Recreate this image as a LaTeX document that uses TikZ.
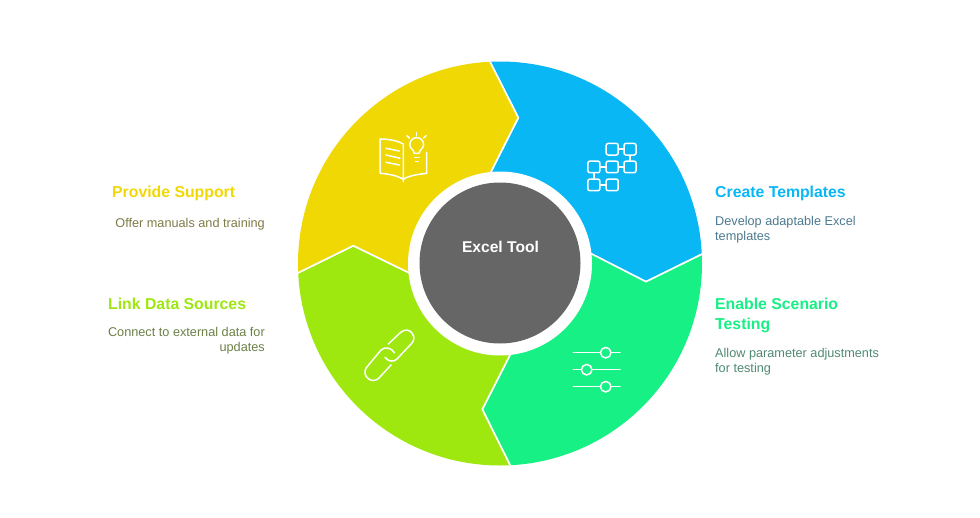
\documentclass[tikz,border=0pt]{standalone}
\usepackage{fontspec}
\setmainfont{Liberation Sans}
\definecolor{cyanseg}{HTML}{0AB7F5}
\definecolor{greenseg}{HTML}{16F085}
\definecolor{limeseg}{HTML}{9EE80F}
\definecolor{yellowseg}{HTML}{F0D805}
\definecolor{hubgray}{HTML}{666666}
\definecolor{cyanbody}{HTML}{4C7A90}
\definecolor{greenbody}{HTML}{4F8A72}
\definecolor{limebody}{HTML}{6E8048}
\definecolor{yellowbody}{HTML}{7F7B48}
\tikzset{
  x=1pt,y=-1pt,
  segment/.style={draw=white,line width=1.6pt,line join=miter},
  title/.style={font=\fontsize{15.8}{20}\selectfont\bfseries,inner sep=0pt,align=left},
  bodyleft/.style={font=\fontsize{12.7}{15.5}\selectfont,inner sep=0pt,align=left},
  bodyright/.style={font=\fontsize{12.7}{15.5}\selectfont,inner sep=0pt,align=right},
  icon/.style={draw=white,line width=1.5pt,line cap=round,line join=round},
  knob/.style={circle,draw=white,line width=1.5pt,minimum size=10.5pt,inner sep=0pt},
  flowbox/.style={draw=white,line width=1.5pt,rounded corners=2pt,minimum width=12pt,minimum height=11.6pt,inner sep=0pt},
}
\begin{document}
\begin{tikzpicture}
\useasboundingbox (0,0) rectangle (980,517);
\fill[white] (0,0) rectangle (980,517);
\coordinate (c) at (500,263.5);
\begin{scope}
  \clip (c) circle[radius=202];
  \filldraw[segment,fill=cyanseg] (c) -- (491,171.7) -- (518.3,117.7) -- (490,61.7) -- (488,20) -- (760,20) -- (760,226) -- (702.3,254) -- (646,281.7) -- (591.7,254) -- cycle;
  \filldraw[segment,fill=greenseg] (c) -- (591.7,254) -- (646,281.7) -- (702.3,254) -- (760,226) -- (760,510) -- (512,510) -- (510,465) -- (482.3,409.3) -- (510,355) -- cycle;
  \filldraw[segment,fill=limeseg] (c) -- (510,355) -- (482.3,409.3) -- (510,465) -- (512,510) -- (240,510) -- (240,301) -- (298.3,272.7) -- (353.3,245.7) -- (409,272.7) -- cycle;
  \filldraw[segment,fill=yellowseg] (c) -- (409,272.7) -- (353.3,245.7) -- (298.3,272.7) -- (240,301) -- (240,20) -- (488,20) -- (490,61.7) -- (518.3,117.7) -- (491,171.7) -- cycle;
\end{scope}
\fill[white] (c) circle[radius=92];
\node[circle,fill=hubgray,minimum size=161pt,inner sep=0pt] (hub) at (500,263) {};
\node[font=\fontsize{15.6}{20}\selectfont\bfseries,text=white,inner sep=0pt] (hublabel) at (500.5,247) {Excel Tool};

% book icon
\draw[icon] (403.3,179.3) -- (403.3,144) .. controls (397,140.5) and (388,139) .. (380,139) -- (380,173.3) .. controls (388,173.8) and (397,175.5) .. (403.3,179.3) -- (403.3,181.7);
\draw[icon] (403.3,179.3) .. controls (409,175.5) and (418,174.3) .. (426.7,173.3) -- (426.7,152.3);
\draw[icon] (386,148.3) -- (399.3,151);
\draw[icon] (386,155) -- (400,158.3);
\draw[icon] (386,162.3) -- (399.3,165);
\draw[icon] (414.3,153.3) .. controls (414,149.5) and (409.8,149) .. (409.8,144.5) arc[start angle=180,end angle=360,radius=6.9] .. controls (423.6,149) and (419.3,149.5) .. (419,153.3) -- cycle;
\draw[icon] (414.8,157.3) -- (419,157.3);
\draw[icon] (415.6,161.5) -- (418.2,161.5);
\draw[icon] (416.7,132.7) -- (416.7,135.7);
\draw[icon] (407,135.7) -- (409.3,138);
\draw[icon] (426,135.7) -- (423.6,138);

% flow icon
\node[flowbox] (fa) at (612.2,149.2) {};
\node[flowbox] (fb) at (630,149.2) {};
\node[flowbox] (fc) at (593.9,166.9) {};
\node[flowbox] (fd) at (612.2,166.9) {};
\node[flowbox] (fe) at (630,166.9) {};
\node[flowbox] (ff) at (593.9,184.9) {};
\node[flowbox] (fg) at (612.2,184.9) {};
\draw[icon] (fa) -- (fb);
\draw[icon] (fc) -- (fd);
\draw[icon] (fd) -- (fe);
\draw[icon] (ff) -- (fg);
\draw[icon] (fb) -- (fe);
\draw[icon] (fc) -- (ff);

% slider icon
\node[knob] (ka) at (605.7,352.7) {};
\node[knob] (kb) at (586.7,369.7) {};
\node[knob] (kc) at (605.7,386.7) {};
\coordinate (la) at (573.3,352.7);
\coordinate (ra) at (620,352.7);
\coordinate (lb) at (573.3,369.7);
\coordinate (rb) at (620,369.7);
\coordinate (lc) at (573.3,386.7);
\coordinate (rc) at (620,386.7);
\draw[icon] (la) -- (ka);
\draw[icon] (ka) -- (ra);
\draw[icon] (lb) -- (kb);
\draw[icon] (kb) -- (rb);
\draw[icon] (lc) -- (kc);
\draw[icon] (kc) -- (rc);

% link icon
\draw[icon] (388.3,344) -- (400.5,332.5) .. controls (405,328.5) and (410,330) .. (412,333) .. controls (414.5,336.5) and (414.5,340) .. (412,343) -- (397,359) .. controls (393.5,362.5) and (388,361.5) .. (385,357.3);
\draw[icon] (391,365) -- (378.5,378.5) .. controls (375,381.5) and (370.5,381) .. (367.5,378) .. controls (364.5,375) and (364,371) .. (366.5,367.5) -- (381,350) .. controls (385,346.5) and (391.5,347.5) .. (394.3,352.7);

% texts
\node[title,text=yellowseg,anchor=north west] (t1) at (112,186) {Provide Support};
\node[bodyright,text=yellowbody,anchor=north east] (b1) at (265,218) {Offer manuals and training};
\node[title,text=limeseg,anchor=north west] (t2) at (108,298) {Link Data Sources};
\node[bodyright,text=limebody,anchor=north east] (b2) at (265,327) {Connect to external data for\\updates};
\node[title,text=cyanseg,anchor=north west] (t3) at (715,186) {Create Templates};
\node[bodyleft,text=cyanbody,anchor=north west] (b3) at (715,216) {Develop adaptable Excel\\templates};
\node[title,text=greenseg,anchor=north west] (t4) at (715,298) {Enable Scenario\\Testing};
\node[bodyleft,text=greenbody,anchor=north west] (b4) at (715,348) {Allow parameter adjustments\\for testing};
\end{tikzpicture}
\end{document}
